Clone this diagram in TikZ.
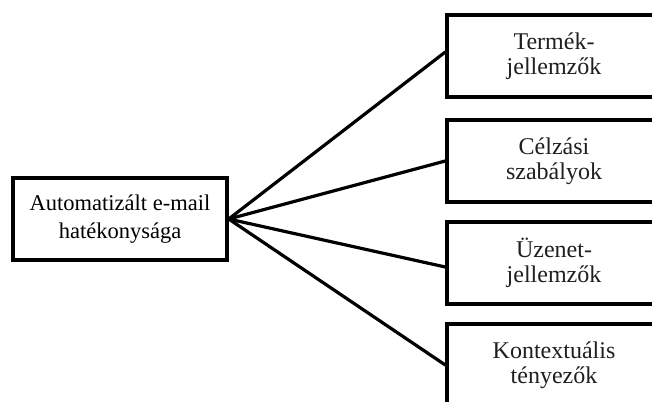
\documentclass[tikz,border=0pt]{standalone}
\usepackage{fontspec}
\setmainfont{Liberation Serif}
\begin{document}
\begin{tikzpicture}[x=1pt,y=-1pt,
  box/.style={draw=black,line width=3.4pt,fill=white,minimum width=214pt,minimum height=82pt,inner sep=0pt,align=center},
  lefttext/.style={font=\fontsize{22.5pt}{28pt}\selectfont},
  righttext/.style={font=\fontsize{24pt}{25pt}\selectfont,text=black!88},
  conn/.style={line width=3.2pt,line cap=round}]
\useasboundingbox (0,0) rectangle (652,401);
\node[box,lefttext] (a) at (120,219) {Automatizált e-mail\\hatékonysága};
\node[box,righttext] (b1) at (554,56) {Termék-\\jellemzők};
\node[box,righttext] (b2) at (554,161) {Célzási\\szabályok};
\node[box,righttext] (b3) at (554,263) {Üzenet-\\jellemzők};
\node[box,righttext] (b4) at (554,365) {Kontextuális\\tényezők};
\draw[conn] (a.east) -- ([yshift=4pt]b1.west);
\draw[conn] (a.east) -- (b2.west);
\draw[conn] (a.east) -- ([yshift=-4pt]b3.west);
\draw[conn] (a.east) -- (b4.west);
\end{tikzpicture}
\end{document}
